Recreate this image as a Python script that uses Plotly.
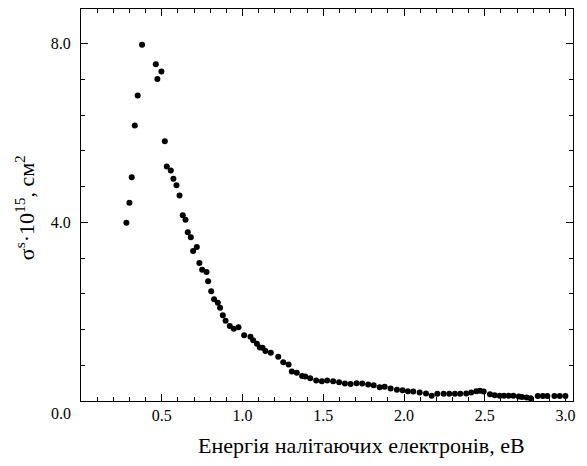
import plotly.graph_objects as go

energy = [0.281, 0.300, 0.314, 0.333, 0.351, 0.378, 0.463, 0.473, 0.498, 0.519,
          0.531, 0.556, 0.572, 0.591, 0.610, 0.630, 0.647, 0.661, 0.680, 0.694,
          0.717, 0.733, 0.750, 0.777, 0.787, 0.806, 0.824, 0.847, 0.861, 0.878,
          0.895, 0.921, 0.946, 0.975, 1.010, 1.049, 1.066, 1.089, 1.107, 1.124,
          1.142, 1.175, 1.221, 1.252, 1.285, 1.305, 1.336, 1.369, 1.388, 1.419,
          1.456, 1.491, 1.524, 1.561, 1.598, 1.634, 1.669, 1.706, 1.741, 1.778,
          1.812, 1.849, 1.880, 1.917, 1.956, 1.991, 2.024, 2.057, 2.097, 2.136,
          2.171, 2.206, 2.245, 2.280, 2.315, 2.348, 2.385, 2.416, 2.447, 2.470,
          2.493, 2.532, 2.561, 2.592, 2.619, 2.648, 2.677, 2.710, 2.730, 2.759,
          2.784, 2.828, 2.859, 2.887, 2.931, 2.964, 2.999]
sigma = [3.99, 4.44, 5.01, 6.17, 6.84, 7.98, 7.54, 7.21, 7.38, 5.82,
         5.25, 5.16, 4.98, 4.83, 4.60, 4.16, 4.06, 3.78, 3.67, 3.36,
         3.45, 3.09, 2.94, 2.89, 2.68, 2.46, 2.28, 2.20, 2.09, 1.92,
         1.80, 1.68, 1.62, 1.65, 1.47, 1.44, 1.36, 1.28, 1.20, 1.19,
         1.12, 1.08, 0.99, 0.87, 0.82, 0.66, 0.63, 0.56, 0.55, 0.51,
         0.46, 0.44, 0.46, 0.44, 0.42, 0.39, 0.38, 0.40, 0.39, 0.37,
         0.35, 0.31, 0.32, 0.28, 0.25, 0.24, 0.22, 0.21, 0.19, 0.17,
         0.12, 0.16, 0.16, 0.16, 0.16, 0.16, 0.17, 0.19, 0.22, 0.23,
         0.21, 0.15, 0.13, 0.12, 0.12, 0.12, 0.12, 0.10, 0.09, 0.08,
         0.06, 0.11, 0.11, 0.11, 0.11, 0.11, 0.11]

x_tickvals = [0.5, 1.0, 1.5, 2.0, 2.5, 3.0]
x_ticktext = ["0.5", "1.0", "1.5", "2.0", "2.5", "3.0"]
y_tickvals = [4.0, 8.0]
y_ticktext = ["4.0", "8.0"]

FONT = "Liberation Serif"

fig = go.Figure()
fig.add_trace(go.Scatter(
    x=energy, y=sigma, mode="markers",
    marker=dict(color="black", size=6, line=dict(width=0)),
    showlegend=False,
))

axis_common = dict(
    showline=True, linecolor="black", linewidth=1, mirror="ticks",
    ticks="inside", ticklen=7, tickwidth=1, tickcolor="black",
    showgrid=False, zeroline=False,
    tickfont=dict(family=FONT, size=16, color="black"),
)

fig.update_xaxes(
    range=[0, 3.046], tickmode="array", tickvals=x_tickvals, ticktext=x_ticktext,
    minor=dict(ticks="inside", ticklen=4, tickwidth=1, tickcolor="black",
               tickmode="linear", tick0=0, dtick=0.1, showgrid=False),
    **axis_common,
)
fig.update_yaxes(
    range=[0, 8.78], tickmode="array", tickvals=y_tickvals, ticktext=y_ticktext,
    ticklabelstandoff=6,
    minor=dict(ticks="inside", ticklen=4, tickwidth=1, tickcolor="black",
               tickmode="linear", tick0=0, dtick=0.8, showgrid=False),
    **axis_common,
)

fig.add_annotation(
    text="0.0", xref="paper", yref="paper", x=-0.0407, y=-0.031,
    xanchor="center", yanchor="middle", showarrow=False,
    font=dict(family=FONT, size=16, color="black"),
)
fig.add_annotation(
    text="Енергія налітаючих електронів, еВ", xref="paper", yref="paper",
    x=0.571, y=-0.113, xanchor="center", yanchor="middle", showarrow=False,
    font=dict(family=FONT, size=22, color="black"),
)
fig.add_annotation(
    text="σ<sup>s</sup>·10<sup>15</sup>, см<sup>2</sup>", xref="paper", yref="paper",
    x=-0.115, y=0.493, xanchor="center", yanchor="middle", showarrow=False,
    textangle=-90,
    font=dict(family=FONT, size=22, color="black"),
)

fig.update_layout(
    width=587, height=466,
    margin=dict(l=81, r=14, t=9, b=65, pad=0),
    paper_bgcolor="white", plot_bgcolor="white",
)

fig.write_html("out.html")
